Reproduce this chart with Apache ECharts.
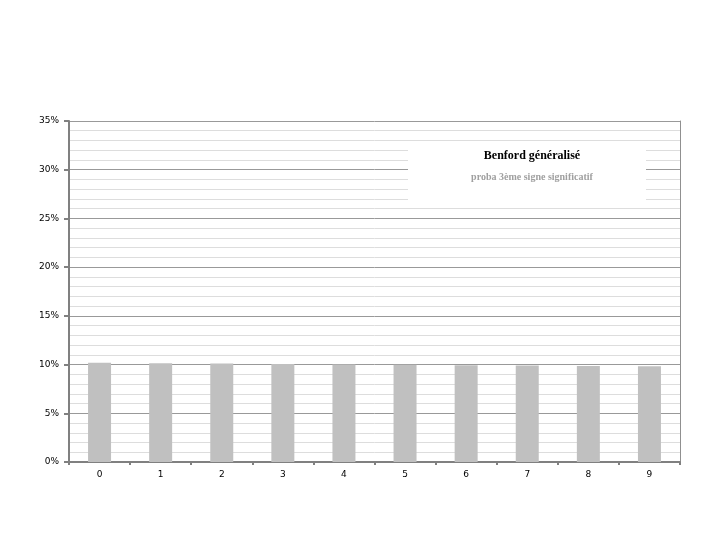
<!DOCTYPE html>
<html>
<head>
<meta charset="utf-8">
<script src="https://cdn.jsdelivr.net/npm/echarts@6/dist/echarts.min.js"></script>
<style>
  html, body { margin: 0; padding: 0; background: #fff; }
  #chart { width: 720px; height: 540px; }
</style>
</head>
<body>
<div id="chart"></div>
<script>
// third significant digit (generalised Benford), in percent
const digits = ['0', '1', '2', '3', '4', '5', '6', '7', '8', '9'];
const probaPct = [10.18, 10.14, 10.10, 10.06, 10.02, 9.98, 9.94, 9.90, 9.86, 9.83];
const yMin = 0;
const yMax = 35;
const yStep = 5;      // labelled gridlines; minor ones every 1%
const titleText = 'Benford généralisé';
const subtitleText = 'proba 3ème signe significatif';

const chart = echarts.init(document.getElementById('chart'));

chart.setOption({
    backgroundColor: '#fff',
    animation: false,
    grid: { left: 69, right: 40, top: 121, bottom: 78 },
    title: {
        text: titleText,
        subtext: subtitleText,
        left: 527,
        top: 145,
        textAlign: 'center',
        itemGap: 10,
        z: 20,
        textStyle: {
            fontFamily: 'Liberation Serif',
            fontWeight: 'bold',
            fontSize: 12,
            color: '#000'
        },
        subtextStyle: {
            fontFamily: 'Liberation Serif',
            fontWeight: 'bold',
            fontSize: 10,
            color: '#a0a0a0'
        }
    },
    graphic: [{
        type: 'rect',
        z: 10,
        shape: { x: 408, y: 142, width: 238, height: 64 },
        style: { fill: '#fff' }
    }],
    xAxis: {
        type: 'category',
        data: digits,
        axisLine: { lineStyle: { color: '#808080', width: 2 } },
        axisTick: { show: true, length: 3, lineStyle: { color: '#808080', width: 2 } },
        axisLabel: {
            margin: 8,
            fontFamily: 'DejaVu Sans',
            fontSize: 9,
            color: '#000'
        },
        splitLine: { show: false }
    },
    yAxis: [{
        type: 'value',
        min: yMin,
        max: yMax,
        interval: yStep,
        axisLine: { show: true, lineStyle: { color: '#808080', width: 2 } },
        axisTick: { show: true, length: 5, lineStyle: { color: '#808080', width: 2 } },
        minorTick: { show: false, splitNumber: 5 },
        axisLabel: {
            margin: 10,
            fontFamily: 'DejaVu Sans',
            fontSize: 9,
            color: '#000',
            formatter: v => v + '%'
        },
        splitLine: { show: true, lineStyle: { color: '#999999', width: 1 } },
        minorSplitLine: { show: true, lineStyle: { color: '#dddddd', width: 1 } }
    }, {
        type: 'value',
        position: 'right',
        min: yMin,
        max: yMax,
        axisLine: { show: true, lineStyle: { color: '#909090', width: 1 } },
        axisTick: { show: false },
        axisLabel: { show: false },
        splitLine: { show: false }
    }],
    series: [{
        type: 'bar',
        data: probaPct,
        barWidth: 23,
        itemStyle: { color: '#c0c0c0' }
    }]
});
</script>
</body>
</html>
